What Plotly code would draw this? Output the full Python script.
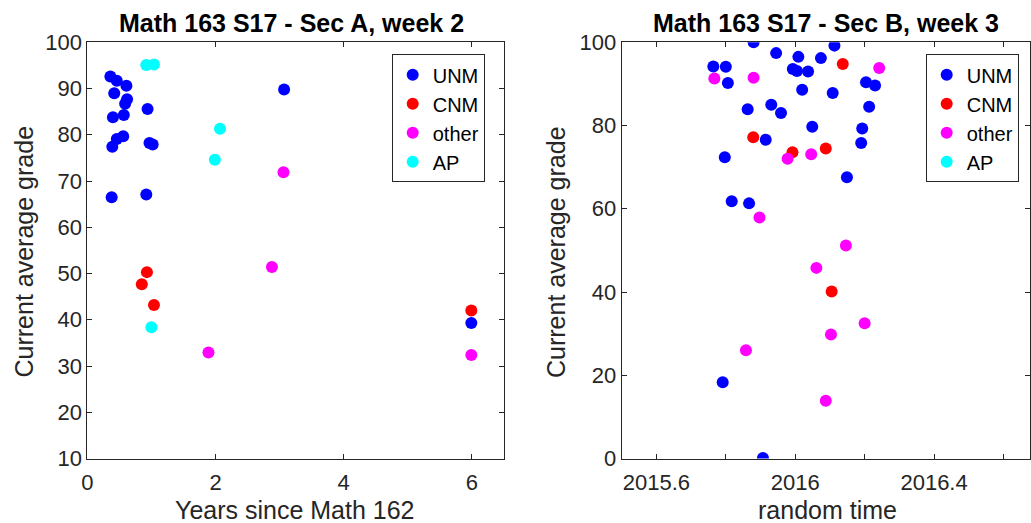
import plotly.graph_objects as go

# ---------- Section A (left) ----------
a_unm_x = [0.36, 0.46, 0.61, 0.42, 0.62, 0.59, 0.94, 0.40, 0.57, 0.56, 0.46, 0.39, 0.97, 1.02, 0.38, 0.92, 3.07, 5.99]
a_unm_y = [92.6, 91.7, 90.6, 89.0, 87.7, 86.7, 85.6, 83.8, 84.3, 79.7, 79.1, 77.4, 78.2, 77.9, 66.5, 67.1, 89.8, 39.3]
a_cnm_x = [0.93, 0.85, 1.04, 5.99]
a_cnm_y = [50.3, 47.7, 43.2, 42.0]
a_oth_x = [1.89, 2.88, 3.06, 5.99]
a_oth_y = [32.9, 51.4, 71.9, 32.4]
a_ap_x = [0.92, 1.04, 2.07, 1.99, 1.00]
a_ap_y = [95.1, 95.2, 81.3, 74.6, 38.4]

# ---------- Section B (right) ----------
b_unm_x = [2015.880, 2015.945, 2016.009, 2016.074, 2016.113, 2015.764, 2015.800, 2015.806,
           2015.993, 2016.005, 2016.037, 2016.020, 2016.108, 2015.863, 2015.931, 2015.959,
           2016.049, 2015.915, 2015.797, 2016.149, 2015.817, 2015.867, 2016.204, 2016.230,
           2016.213, 2016.193, 2016.190, 2015.791, 2015.907]
b_unm_y = [100.0, 97.4, 96.5, 96.2, 99.2, 94.2, 94.1, 90.2,
           93.6, 93.1, 93.0, 88.6, 87.8, 83.9, 85.0, 83.0,
           79.7, 76.6, 72.4, 67.6, 61.8, 61.3, 90.4, 89.6,
           84.5, 79.3, 75.8, 18.3, 0.1]
b_cnm_x = [2016.137, 2015.879, 2015.992, 2016.088, 2016.105]
b_cnm_y = [94.8, 77.2, 73.6, 74.5, 40.1]
b_oth_x = [2015.767, 2015.880, 2015.978, 2016.046, 2015.897, 2016.242, 2016.146, 2016.061,
           2016.200, 2016.103, 2015.858, 2016.088]
b_oth_y = [91.3, 91.5, 72.0, 73.1, 57.9, 93.8, 51.2, 45.8,
           32.5, 29.8, 26.0, 13.9]
b_ap_x = [None]
b_ap_y = [None]

names = ["UNM", "CNM", "other", "AP"]
colors = ["#0000ff", "#ff0000", "#ff00ff", "#00ffff"]

left_x_ticks = [0, 2, 4, 6]
left_y_ticks = [10, 20, 30, 40, 50, 60, 70, 80, 90, 100]
right_x_ticks = [2015.6, 2015.8, 2016.0, 2016.2, 2016.4, 2016.6]
right_x_text = ["2015.6", "", "2016", "", "2016.4", ""]
right_y_ticks = [0, 20, 40, 60, 80, 100]

FONT = "Liberation Sans, Arial, Helvetica, sans-serif"
AX = "#262626"
W, H = 1031, 523

fig = go.Figure()

left_sets = [(a_unm_x, a_unm_y), (a_cnm_x, a_cnm_y), (a_oth_x, a_oth_y), (a_ap_x, a_ap_y)]
right_sets = [(b_unm_x, b_unm_y), (b_cnm_x, b_cnm_y), (b_oth_x, b_oth_y), (b_ap_x, b_ap_y)]

for (xs, ys), n, c in zip(left_sets, names, colors):
    fig.add_trace(go.Scatter(x=xs, y=ys, mode="markers", name=n,
                             marker=dict(color=c, size=12, line=dict(width=0)),
                             xaxis="x", yaxis="y", legend="legend"))
for (xs, ys), n, c in zip(right_sets, names, colors):
    fig.add_trace(go.Scatter(x=xs, y=ys, mode="markers", name=n,
                             marker=dict(color=c, size=12, line=dict(width=0)),
                             xaxis="x2", yaxis="y2", legend="legend2"))

axis_common = dict(showgrid=False, zeroline=False, showline=True, linecolor=AX, linewidth=1,
                   mirror="ticks", ticks="inside", ticklen=5, tickcolor=AX, tickwidth=1,
                   automargin=False,
                   tickfont=dict(family=FONT, size=22, color=AX))
xaxis_extra = dict(ticklabelstandoff=4)

legend_common = dict(bgcolor="white", bordercolor=AX, borderwidth=1,
                     font=dict(family=FONT, size=20, color="black"),
                     xanchor="left", yanchor="top", itemsizing="constant",
                     tracegroupgap=0)

ydom = [1 - 458.5 / H, 1 - 42.3 / H]

def ann(text, xpx, ypx, size, angle=0, color=AX):
    return dict(text=text, x=xpx / W, y=1 - ypx / H, xref="paper", yref="paper",
                showarrow=False, xanchor="center", yanchor="middle", textangle=angle,
                font=dict(family=FONT, size=size, color=color))

fig.update_layout(
    width=W, height=H,
    margin=dict(l=0, r=0, t=0, b=0),
    paper_bgcolor="white", plot_bgcolor="white",
    showlegend=True,
    xaxis=dict(domain=[87.3 / W, 504 / W], range=[0, 6.5], tickvals=left_x_ticks,
               anchor="y", **axis_common, **xaxis_extra),
    yaxis=dict(domain=ydom, range=[10, 100], tickvals=left_y_ticks,
               anchor="x", **axis_common),
    xaxis2=dict(domain=[621.7 / W, 1029.5 / W], range=[2015.5, 2016.675], tickvals=right_x_ticks,
                ticktext=right_x_text, anchor="y2", **axis_common, **xaxis_extra),
    yaxis2=dict(domain=ydom, range=[0, 100], tickvals=right_y_ticks,
                anchor="x2", **axis_common),
    legend=dict(x=391.7 / W, y=1 - 54.3 / H, **legend_common),
    legend2=dict(x=925.7 / W, y=1 - 54.3 / H, **legend_common),
    annotations=[
        ann("<b>Math 163 S17 - Sec A, week 2</b>", 291, 23, 25, color="black"),
        ann("<b>Math 163 S17 - Sec B, week 3</b>", 825.5, 23, 25, color="black"),
        ann("Years since Math 162", 295.3, 510, 25),
        ann("random time", 827.5, 510, 25),
        ann("Current average grade", 23.5, 252, 25, angle=-90),
        ann("Current average grade", 556, 252, 25, angle=-90),
    ],
)

fig.write_html("out.html")
